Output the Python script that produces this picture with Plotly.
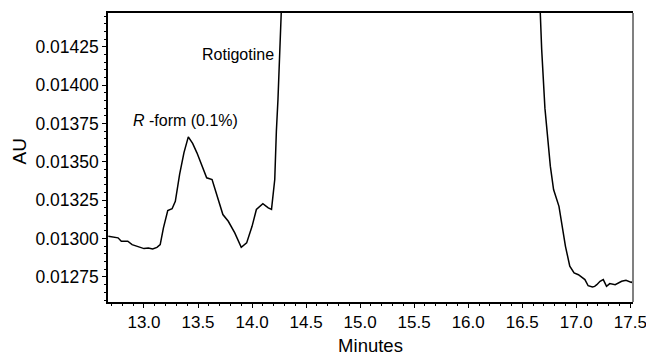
import plotly.graph_objects as go

# Chromatogram trace (minutes, AU)
time_min = [12.67, 12.72, 12.76, 12.79, 12.85, 12.89, 12.96, 13.00, 13.04, 13.08,
            13.12, 13.15, 13.18, 13.22, 13.26, 13.29, 13.33, 13.37, 13.41, 13.45,
            13.49, 13.55, 13.58, 13.63, 13.67, 13.73, 13.78, 13.84, 13.90, 13.95,
            14.00, 14.04, 14.10, 14.15, 14.18, 14.21, 14.225, 14.24, 14.27, 14.30,
            15.40, 16.64, 16.667, 16.68, 16.71, 16.76, 16.79, 16.84, 16.90, 16.94,
            16.98, 17.02, 17.08, 17.11, 17.15, 17.17, 17.19, 17.22, 17.25, 17.28,
            17.31, 17.36, 17.42, 17.46, 17.51, 17.525]
absorbance = [0.013015, 0.013012, 0.013005, 0.012983, 0.012983, 0.012961, 0.012943, 0.012935, 0.012939, 0.012932,
              0.012943, 0.012961, 0.013070, 0.013183, 0.013195, 0.013243, 0.013420, 0.013560, 0.013663, 0.013620,
              0.013559, 0.013450, 0.013396, 0.013385, 0.013298, 0.013157, 0.013113, 0.013037, 0.012943, 0.012972,
              0.013080, 0.013190, 0.013228, 0.013200, 0.013190, 0.013385, 0.013700, 0.013910, 0.014470, 0.015000,
              0.020000, 0.015000, 0.014470, 0.014233, 0.013850, 0.013472, 0.013320, 0.013210, 0.012950, 0.012820,
              0.012776, 0.012765, 0.012733, 0.012693, 0.012685, 0.012689, 0.012700, 0.012722, 0.012733, 0.012689,
              0.012707, 0.012700, 0.012722, 0.012728, 0.012715, 0.012722]

x_ticks = [13.0, 13.5, 14.0, 14.5, 15.0, 15.5, 16.0, 16.5, 17.0, 17.5]
y_ticks = [0.01275, 0.01300, 0.01325, 0.01350, 0.01375, 0.01400, 0.01425]
x_range = [12.667, 17.525]
y_range = [0.012587, 0.01447]

label_texts = ["<i>R</i> -form (0.1%)", "Rotigotine"]
label_x = [13.38, 13.866]
label_y = [0.013772, 0.014200]

FONT = "Liberation Sans, Arial, sans-serif"

fig = go.Figure()
fig.add_trace(go.Scatter(x=time_min, y=absorbance, mode="lines",
                         line=dict(color="black", width=1.5), showlegend=False,
                         hoverinfo="skip"))

for txt, lx, ly in zip(label_texts, label_x, label_y):
    fig.add_annotation(x=lx, y=ly, text=txt, showarrow=False,
                       font=dict(family=FONT, size=16, color="black"),
                       xanchor="center", yanchor="middle")

# y-axis title placed as a rotated annotation
fig.add_annotation(xref="paper", yref="paper", x=-0.168, y=0.52, text="AU",
                   textangle=-90, showarrow=False, xanchor="center", yanchor="middle",
                   font=dict(family=FONT, size=19, color="black"))

# gray right border
fig.add_shape(type="line", xref="paper", yref="paper", x0=1, x1=1, y0=0, y1=1,
              line=dict(color="#808080", width=2))

fig.update_layout(
    width=646, height=356,
    margin=dict(l=108, r=13, t=13, b=54),
    paper_bgcolor="white", plot_bgcolor="white",
    font=dict(family=FONT, size=17, color="black"),
    xaxis=dict(range=x_range, tickvals=x_ticks, tickformat=".1f",
               showgrid=False, zeroline=False, automargin=False,
               showline=True, linecolor="black", linewidth=1.5, mirror=True,
               ticks="outside", ticklen=4, tickwidth=1.2, tickcolor="black",
               minor=dict(dtick=0.1, ticks="outside", ticklen=2.5, tickcolor="black", tickwidth=1),
               tickfont=dict(size=17), ticklabeloverflow="allow",
               title=dict(text="Minutes", font=dict(size=18.5))),
    yaxis=dict(range=y_range, tickvals=y_ticks, tickformat=".5f",
               showgrid=False, zeroline=False, automargin=False,
               showline=True, linecolor="black", linewidth=1.5,
               ticks="outside", ticklen=4, tickwidth=1.2, tickcolor="black",
               minor=dict(dtick=0.00005, tick0=0.01275, ticks="outside", ticklen=2.5, tickcolor="black", tickwidth=1),
               tickfont=dict(size=17.5)),
)

fig.write_html("out.html")
